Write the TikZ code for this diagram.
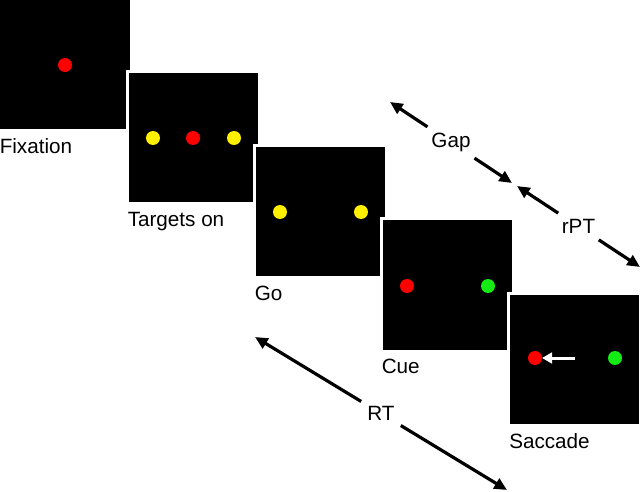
\documentclass[tikz,border=0pt]{standalone}
\usepackage{fontspec}
\setmainfont{Liberation Sans}
\usetikzlibrary{arrows.meta,positioning}

\definecolor{dotred}{RGB}{255,0,0}
\definecolor{dotyellow}{RGB}{255,240,0}
\definecolor{dotgreen}{RGB}{20,235,20}

\begin{document}
\begin{tikzpicture}[x=0.75pt,y=-0.75pt,
  panel/.style={fill=black,draw=white,line width=2.25pt,minimum size=99pt,inner sep=0pt},
  dot/.style={circle,minimum size=10.5pt,inner sep=0pt,outer sep=0pt},
  caption/.style={font=\fontsize{15.5}{18}\selectfont,inner sep=0pt},
  tag/.style={font=\fontsize{15.5}{18}\selectfont,inner sep=4.5pt},
  interval/.style={line width=2.4pt,-{Triangle[length=9.5pt,width=8.5pt]}}]

\useasboundingbox (0,0) rectangle (640,492);

% screens
\node[panel] (fix) at (65,64.5) {};
\node[panel] (tgt) at (193,138) {};
\node[panel] (go) at (320,211.5) {};
\node[panel] (cue) at (447,285) {};
\node[panel] (sac) at (574.5,359) {};

% spots
\node[dot,fill=dotred] (fixC) at (65,65) {};

\node[dot,fill=dotyellow] (tgtL) at (153,138) {};
\node[dot,fill=dotred] (tgtC) at (193,138) {};
\node[dot,fill=dotyellow] (tgtR) at (234,138) {};

\node[dot,fill=dotyellow] (goL) at (280,212) {};
\node[dot,fill=dotyellow] (goR) at (361,212) {};

\node[dot,fill=dotred] (cueL) at (407,286) {};
\node[dot,fill=dotgreen] (cueR) at (488,286) {};

\node[dot,fill=dotred] (sacL) at (535,358) {};
\node[dot,fill=dotgreen] (sacR) at (615,358) {};

% eye movement
\coordinate (sacstart) at (575,358);
\draw[white,line width=2.25pt,-{Triangle[length=7.5pt,width=8pt]}] (sacstart) -- (sacL);

% captions
\node[caption,below right=5pt and 1.5pt of fix.south west] (fixtext) {Fixation};
\node[caption,below right=5pt and 1.5pt of tgt.south west] (tgttext) {Targets on};
\node[caption,below right=5pt and 1.5pt of go.south west] (gotext) {Go};
\node[caption,below right=5pt and 1.5pt of cue.south west] (cuetext) {Cue};
\node[caption,below right=5pt and 1.5pt of sac.south west] (sactext) {Saccade};

% intervals
\coordinate (gapA) at (390,102);
\coordinate (gapB) at (512,183);
\node[tag] (gap) at (451,142.5) {Gap};
\draw[interval] (gap) -- (gapA);
\draw[interval] (gap) -- (gapB);

\coordinate (rptA) at (517,186);
\coordinate (rptB) at (640,267);
\node[tag] (rpt) at (578.5,226.5) {rPT};
\draw[interval] (rpt) -- (rptA);
\draw[interval] (rpt) -- (rptB);

\coordinate (rtA) at (255,337);
\coordinate (rtB) at (507,490);
\node[tag] (rt) at (381,413.5) {RT};
\draw[interval] (rt) -- (rtA);
\draw[interval] (rt) -- (rtB);

\end{tikzpicture}
\end{document}
